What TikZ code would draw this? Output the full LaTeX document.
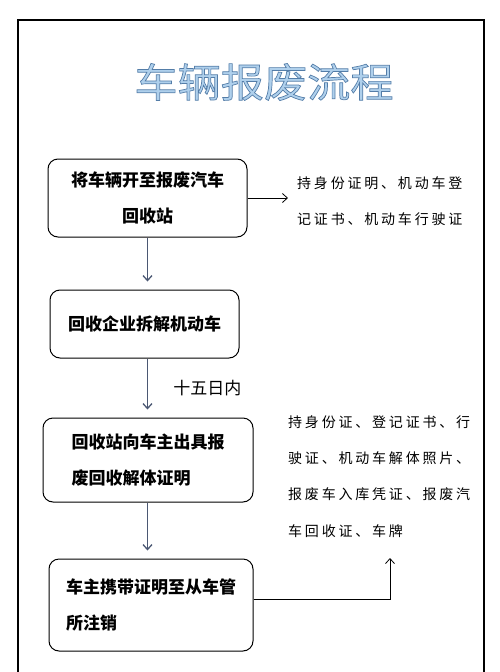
\documentclass[tikz,border=0pt]{standalone}
\usepackage{fontspec}
\setmainfont{Noto Sans CJK SC}
\newfontfamily\titlefont[FakeStretch=1.08]{Noto Sans CJK SC}
\newfontfamily\notefont[LetterSpace=20]{Noto Sans CJK SC}
\usetikzlibrary{positioning,arrows.meta}
\definecolor{arrowgray}{RGB}{75,88,115}
\definecolor{titleblue}{RGB}{175,208,236}
\newcommand{\boxfont}{\bfseries\fontsize{17}{36}\selectfont}
\newcommand{\outlined}[1]{\special{pdf:literal direct 0.33 0.49 0.66 RG 0.7 w 2 Tr}#1\special{pdf:literal direct 0 Tr}}
\tikzset{
    procbox/.style={
        draw, rounded corners=10pt, line width=1pt,
        font=\boxfont, align=left, inner sep=0pt,
    },
    note/.style={
        font=\notefont\fontsize{14}{36.3}\selectfont,
        align=left, inner sep=0pt, anchor=west,
    },
    flow/.style={->, draw=arrowgray, line width=1.3pt, shorten >=8pt},
    pointer/.style={->, line width=0.8pt},
}

\begin{document}
\begin{tikzpicture}[x=1pt, y=-1pt, >={Straight Barb[length=5pt,width=9pt]}]
    \useasboundingbox (0,0) rectangle (500,672);
    \draw[line width=1.4pt] (18,20) rectangle (484,690);

    \node[font=\titlefont\fontsize{40}{40}\selectfont, text=titleblue] (title) at (264,82) {\outlined{车辆报废流程}};

    % main steps
    \node[procbox, align=center, minimum width=199pt, minimum height=78pt] (site) at (147.5,198) {将车辆开至报废汽车\\回收站};
    \node[procbox, minimum width=189pt, minimum height=68pt] (dismantle) at (144.5,324) {回收企业拆解机动车};
    \node[procbox, minimum width=210pt, minimum height=84pt] (recv) at (148,460) {回收站向车主出具报\\废回收解体证明};
    \node[procbox, minimum width=204pt, minimum height=92pt] (cancel) at (151,605) {车主携带证明至从车管\\所注销};

    % required papers
    \node[note] (docs1) at (297,201) {持身份证明、机动车登\\记证书、机动车行驶证};
    \node[note] (docs2) at (288,476.5) {持身份证、登记证书、行\\驶证、机动车解体照片、\\报废车入库凭证、报废汽\\车回收证、车牌};
    \coordinate (docs2in) at (390,558);

    \draw[flow] (site.south) -- (site.south |- dismantle.north);
    \draw[flow] (site.south |- dismantle.south) -- (site.south |- recv.north)
        node[midway, right=22pt, text=black, font=\fontsize{17}{17}\selectfont] (within) {十五日内};
    \draw[flow] (site.south |- recv.south) -- (site.south |- cancel.north);

    \draw[pointer, shorten >=9pt] (site.east) -- (site.east -| docs1.west);
    \draw[pointer] ([yshift=6pt]cancel.east) -| (docs2in);
\end{tikzpicture}
\end{document}
